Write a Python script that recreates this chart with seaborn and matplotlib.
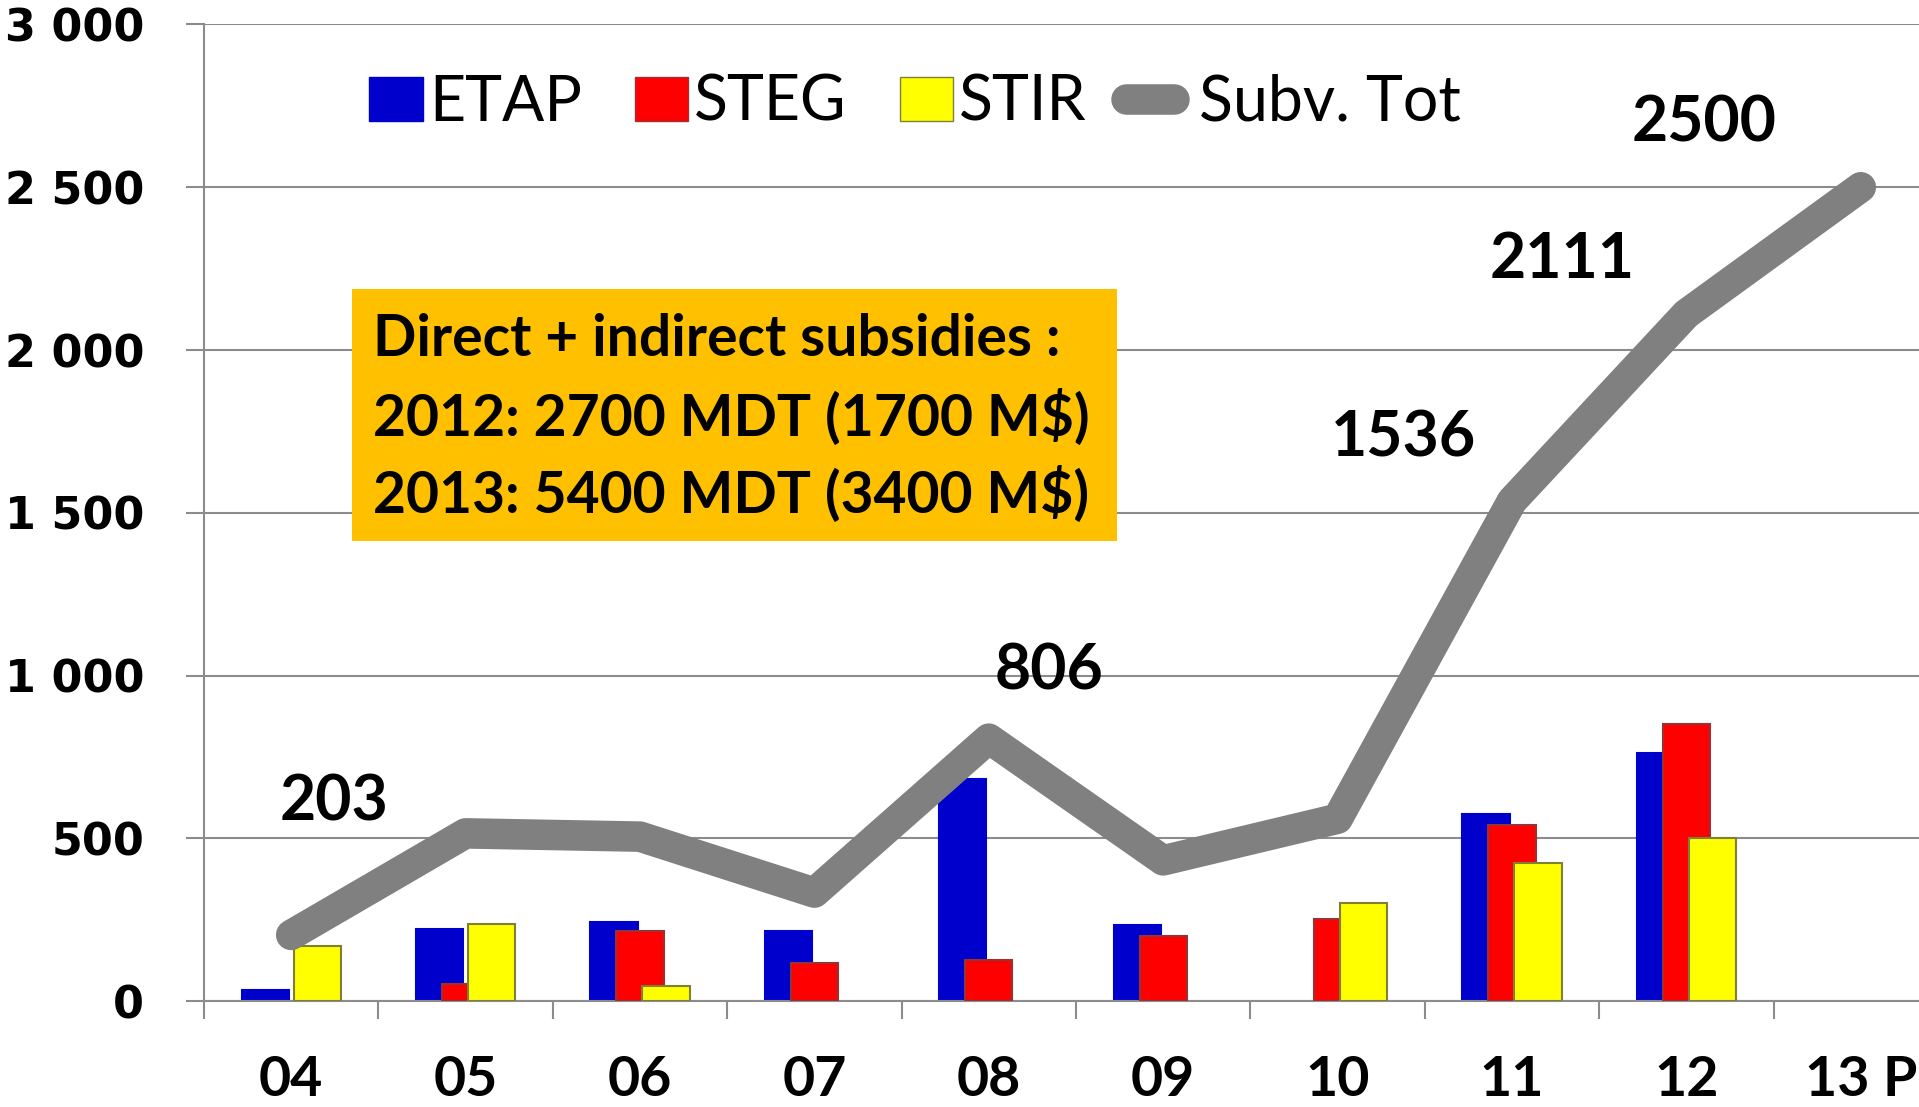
import numpy as np
import pandas as pd
import matplotlib
matplotlib.use('Agg')
import matplotlib.pyplot as plt
import seaborn as sns
from matplotlib.patches import Patch, Rectangle
from matplotlib.lines import Line2D
from matplotlib.legend_handler import HandlerLine2D

# values (MDT)
years = ['04', '05', '06', '07', '08', '09', '10', '11', '12', '13 P']
etap = [35, 221, 242, 216, 681, 232, 0, 574, 763, 0]
steg = [0, 53, 216, 117, 127, 201, 252, 541, 852, 0]
stir = [170, 238, 46, 0, 0, 0, 301, 424, 500, 0]
subv_tot = [203, 515, 505, 333, 806, 432, 560, 1536, 2111, 2500]
labelled = [0, 4, 7, 8, 9]
box_lines = ['Direct + indirect subsidies :',
             '2012: 2700 MDT (1700 M\\$)',
             '2013: 5400 MDT (3400 M\\$)']

# label offsets in pixels from the line point
label_off = {0: (43, 132), 4: (60, 67), 7: (-108, 63), 8: (-124, 54), 9: (-157, 64)}

sns.set_style('white')
plt.rcParams['font.family'] = ['Lato', 'DejaVu Sans']
plt.rcParams['text.color'] = 'black'
plt.rcParams['xtick.color'] = 'black'
plt.rcParams['ytick.color'] = 'black'

GRAY = '#8c8c8c'
fig = plt.figure(figsize=(19.19, 11.07), dpi=100)
ax = fig.add_axes([0.1063, 0.09575, 0.90881, 0.88212])

x = np.arange(len(years))
series = [('ETAP', etap, '#0000cc', '#0000cc', -0.149),
          ('STEG', steg, '#ff0000', '#993333', 0.0),
          ('STIR', stir, '#ffff00', '#7f7f3a', 0.149)]
for k, (name, vals, fc, ec, off) in enumerate(series):
    df = pd.DataFrame({'x': x + off, 'y': vals})
    df = df[df['y'] > 0]
    sns.barplot(data=df, x='x', y='y', native_scale=True, width=0.27,
                color=fc, edgecolor=ec, linewidth=1.5, saturation=1,
                errorbar=None, ax=ax, zorder=2 + k)

sns.lineplot(x=x, y=subv_tot, color='#808080', linewidth=22, ax=ax, zorder=6)
tot_line = ax.lines[-1]
tot_line.set_solid_capstyle('round')
tot_line.set_solid_joinstyle('round')

for i in labelled:
    ax.annotate(str(subv_tot[i]), xy=(x[i], subv_tot[i]), xytext=label_off[i],
                textcoords='offset pixels', ha='center', va='center',
                fontsize=45, fontweight='bold', color='black', zorder=7)

ax.set_xlim(-0.5, len(years) - 0.5)
ax.set_ylim(0, 3000)
ax.set_xlabel('')
ax.set_ylabel('')
ax.set_axisbelow(True)
ax.yaxis.grid(True, color=GRAY, linewidth=1.5)
ax.xaxis.grid(False)
for s in ['top', 'right']:
    ax.spines[s].set_visible(False)
for s in ['left', 'bottom']:
    ax.spines[s].set_color(GRAY)
    ax.spines[s].set_linewidth(1.5)

yt = np.arange(0, 3001, 500)
ax.set_yticks(yt)
ax.set_yticklabels([f'{v:,}'.replace(',', ' ') for v in yt],
                   fontfamily='DejaVu Sans', fontweight='bold', fontsize=32)
ax.tick_params(axis='y', length=13, width=1.5, color=GRAY, pad=30, left=True)

ax.set_xticks(x)
ax.set_xticklabels(years, fontweight='bold', fontsize=40)
ax.set_xticks(np.arange(-0.5, len(years), 1), minor=True)
ax.tick_params(axis='x', which='major', length=0, pad=39)
ax.tick_params(axis='x', which='minor', length=13, width=1.5, color=GRAY, bottom=True)

# orange note box
fig.add_artist(Rectangle((0.1834, 0.5113), 0.3986, 0.2276, transform=fig.transFigure,
                         facecolor='#ffc000', edgecolor='none'))
for yy, t in zip([0.6929, 0.6233, 0.5537], box_lines):
    fig.text(0.1944, yy, t, ha='left', va='center', fontsize=41, fontweight='bold',
             color='black')


class RoundLine(HandlerLine2D):
    def get_xdata(self, legend, xdescent, ydescent, width, height, fontsize):
        xd = np.array([-xdescent - 10, -xdescent + width - 14])
        return xd, xd


handles = [Patch(facecolor='#0000cc', edgecolor='#0000cc'),
           Patch(facecolor='#ff0000', edgecolor='#993333'),
           Patch(facecolor='#ffff00', edgecolor='#7f7f3a'),
           Line2D([0], [0], color='#808080', linewidth=22, solid_capstyle='round')]
fig.legend(handles, ['ETAP', 'STEG', 'STIR', 'Subv. Tot'], loc='center',
           bbox_to_anchor=(0.477, 0.907), ncol=4, frameon=False, fontsize=45,
           handlelength=0.85, handleheight=0.72, handletextpad=0.1,
           columnspacing=0.85, handler_map={Line2D: RoundLine()})

fig.savefig('out.png', dpi=100)
